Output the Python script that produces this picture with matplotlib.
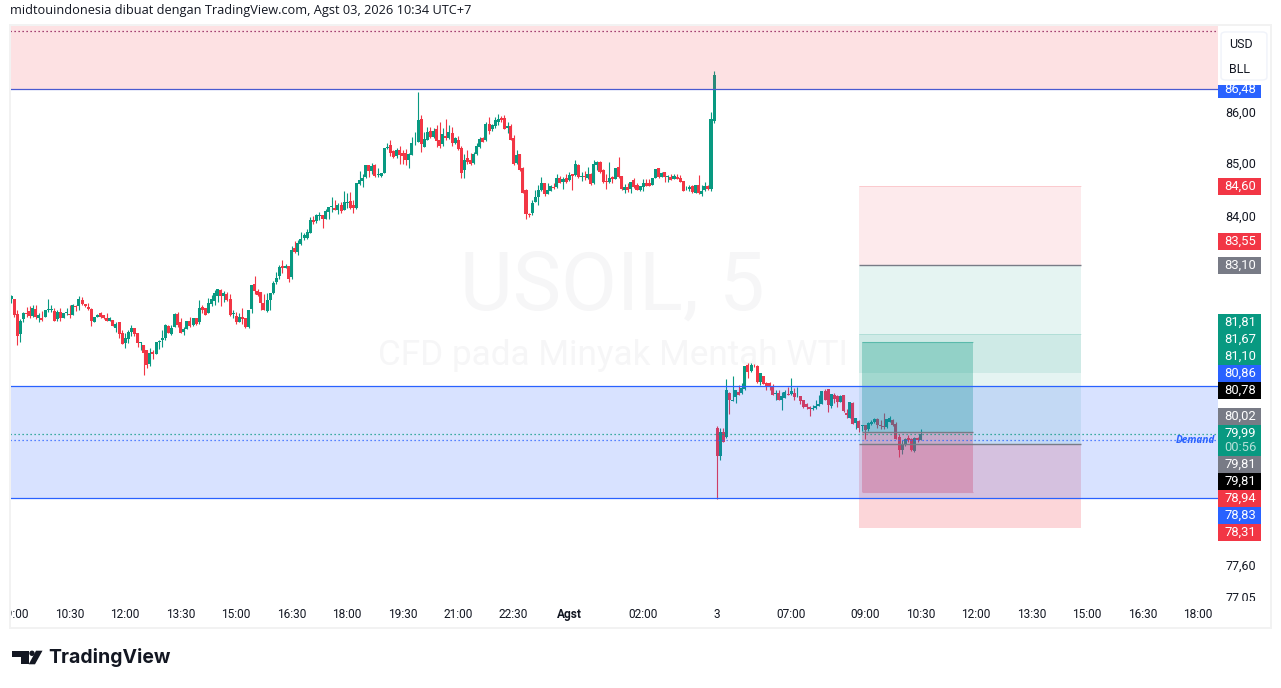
import matplotlib
matplotlib.use("Agg")
import matplotlib.pyplot as plt
import matplotlib.ticker as mticker
from matplotlib.patches import Rectangle, FancyBboxPatch, Polygon, Ellipse
from matplotlib.transforms import Bbox, ScaledTranslation

opens = [
82.46,82.46,82.19,81.82,82.09,82.21,82.24,82.15,82.28,82.12,
82.12,82.13,82.26,82.26,82.25,82.09,82.23,82.11,82.20,82.19,
82.17,82.33,82.33,82.44,82.37,82.32,82.28,82.04,82.14,82.20,
82.17,82.12,82.06,82.07,81.93,82.04,81.84,81.65,81.72,81.85,
81.93,81.83,81.65,81.62,81.52,81.26,81.48,81.45,81.67,81.70,
81.74,81.96,81.82,81.95,82.19,82.03,81.86,81.90,82.05,81.98,
82.11,82.03,82.31,82.30,82.21,82.38,82.43,82.52,82.63,82.52,
82.56,82.46,82.18,82.15,82.04,82.14,82.12,81.95,82.28,82.74,
82.62,82.59,82.40,82.25,82.44,82.57,82.79,82.89,83.08,83.05,
83.08,82.88,83.42,83.35,83.49,83.61,83.61,83.71,83.96,83.93,
84.03,84.04,83.97,84.10,84.20,84.19,84.15,84.24,84.14,84.28,
84.32,84.24,84.18,84.64,84.70,84.78,85.01,84.88,85.01,84.82,
84.80,84.85,85.33,85.39,85.28,85.17,85.30,85.24,85.23,85.10,
85.19,85.42,85.45,85.89,85.35,85.48,85.67,85.55,85.69,85.48,
85.40,85.56,85.53,85.63,85.43,85.49,85.34,84.90,85.14,85.10,
85.05,85.21,85.35,85.52,85.48,85.80,85.69,85.76,85.83,85.92,
85.92,85.71,85.76,85.53,85.05,85.21,84.94,84.52,84.07,84.08,
84.30,84.39,84.52,84.65,84.44,84.51,84.58,84.58,84.76,84.67,
84.75,84.71,84.83,84.81,85.01,84.78,84.79,84.76,84.83,84.65,
85.00,85.06,84.90,84.69,84.67,84.77,84.74,84.96,84.79,84.53,
84.59,84.54,84.71,84.63,84.53,84.58,84.66,84.66,84.62,84.76,
84.94,84.78,84.87,84.78,84.77,84.74,84.77,84.75,84.69,84.54,
84.54,84.60,84.47,84.63,84.44,84.52,84.60,84.55,85.85,80.10,
79.58,80.02,79.93,80.73,80.58,80.66,80.75,80.73,80.80,81.24,
81.13,81.23,81.22,80.93,81.05,80.92,80.91,80.84,80.71,80.74,
80.60,80.64,80.71,80.71,80.74,80.67,80.68,80.61,80.53,80.47,
80.44,80.45,80.49,80.53,80.77,80.81,80.49,80.69,80.67,80.57,
80.69,80.36,80.28,80.54,80.18,80.22,80.13,80.15,80.07,80.16,
80.20,80.26,80.15,80.13,80.11,80.20,80.24,80.17,79.93,79.69,
79.78,79.91,79.90,79.68,79.91,79.88]
closes = [
82.52,82.17,81.78,82.06,82.21,82.18,82.15,82.30,82.14,82.17,
82.07,82.27,82.27,82.27,82.06,82.22,82.11,82.20,82.22,82.17,
82.35,82.32,82.46,82.38,82.33,82.28,82.06,82.13,82.17,82.14,
82.12,82.06,82.12,81.97,82.01,81.82,81.64,81.74,81.85,81.93,
81.81,81.65,81.66,81.47,81.25,81.46,81.45,81.66,81.69,81.74,
81.98,81.84,81.93,82.18,81.99,81.84,81.90,82.06,81.97,82.11,
82.01,82.30,82.27,82.17,82.39,82.46,82.57,82.65,82.52,82.57,
82.44,82.17,82.20,82.04,82.13,82.09,81.94,82.27,82.73,82.62,
82.54,82.40,82.26,82.44,82.57,82.77,82.85,83.06,83.05,83.08,
82.84,83.38,83.34,83.52,83.60,83.66,83.72,83.95,83.92,84.04,
84.05,83.98,84.12,84.20,84.21,84.14,84.24,84.12,84.29,84.29,
84.19,84.18,84.65,84.72,84.76,85.01,84.88,84.99,84.80,84.83,
84.85,85.33,85.35,85.23,85.16,85.30,85.19,85.18,85.10,85.21,
85.42,85.43,85.87,85.40,85.50,85.64,85.55,85.67,85.47,85.37,
85.60,85.53,85.64,85.43,85.52,85.31,84.85,85.11,85.06,85.03,
85.21,85.37,85.50,85.45,85.79,85.67,85.77,85.87,85.90,85.87,
85.70,85.76,85.49,85.02,85.19,84.90,84.47,84.07,84.04,84.28,
84.39,84.52,84.65,84.44,84.52,84.60,84.56,84.75,84.66,84.74,
84.67,84.81,84.80,85.02,84.78,84.80,84.77,84.83,84.64,85.02,
85.06,84.87,84.67,84.67,84.75,84.74,84.95,84.78,84.54,84.58,
84.53,84.67,84.58,84.53,84.60,84.65,84.61,84.61,84.76,84.92,
84.78,84.85,84.78,84.80,84.72,84.79,84.73,84.67,84.51,84.55,
84.58,84.48,84.62,84.46,84.50,84.61,84.54,85.90,86.75,79.58,
80.02,79.85,80.79,80.60,80.61,80.78,80.70,80.82,81.22,81.11,
81.25,81.22,80.93,81.09,80.90,80.86,80.84,80.69,80.72,80.60,
80.67,80.75,80.70,80.77,80.65,80.68,80.59,80.47,80.48,80.44,
80.45,80.50,80.53,80.76,80.61,80.51,80.71,80.63,80.56,80.67,
80.40,80.33,80.56,80.16,80.27,80.10,80.14,80.05,80.18,80.21,
80.26,80.15,80.13,80.11,80.25,80.27,80.15,79.90,79.69,79.81,
79.90,79.88,79.69,79.91,79.87,79.99]
highs = [
82.54,82.46,82.26,82.09,82.23,82.32,82.33,82.35,82.36,82.20,
82.24,82.27,82.46,82.36,82.30,82.27,82.30,82.20,82.29,82.35,
82.37,82.36,82.52,82.51,82.37,82.40,82.30,82.13,82.18,82.22,
82.17,82.20,82.14,82.07,82.04,82.04,81.89,81.83,81.89,81.99,
81.93,81.83,81.66,81.62,81.52,81.56,81.52,81.66,81.71,81.89,
82.01,81.99,81.98,82.21,82.23,82.11,81.94,82.06,82.14,82.11,
82.11,82.44,82.35,82.30,82.48,82.54,82.63,82.65,82.66,82.62,
82.59,82.56,82.26,82.23,82.20,82.29,82.12,82.27,82.73,82.90,
82.65,82.59,82.56,82.57,82.57,82.81,82.97,83.10,83.19,83.12,
83.08,83.46,83.55,83.57,83.72,83.70,83.78,84.01,84.02,84.06,
84.10,84.04,84.17,84.21,84.39,84.33,84.28,84.29,84.50,84.46,
84.48,84.33,84.65,84.88,84.83,85.01,85.01,85.05,85.02,84.95,
84.86,85.33,85.42,85.48,85.29,85.33,85.37,85.29,85.32,85.23,
85.55,85.64,86.42,85.98,85.64,85.73,85.74,85.72,85.77,85.83,
85.71,85.90,85.77,85.73,85.55,85.56,85.37,85.21,85.30,85.23,
85.26,85.42,85.55,85.55,85.83,85.93,85.80,85.93,85.99,85.96,
85.98,85.83,85.80,85.59,85.29,85.21,84.96,84.54,84.08,84.33,
84.53,84.62,84.77,84.65,84.65,84.63,84.65,84.83,84.79,84.78,
84.83,84.87,84.83,85.10,85.02,84.87,84.88,84.97,84.85,85.10,
85.08,85.08,84.92,84.84,85.06,84.79,84.95,85.15,84.79,84.64,
84.65,84.67,84.76,84.65,84.61,84.73,84.73,84.73,84.76,84.92,
84.94,84.87,84.87,84.81,84.83,84.83,84.83,84.81,84.69,84.60,
84.63,84.63,84.63,84.81,84.62,84.67,84.63,86.03,86.83,80.13,
80.10,80.10,80.98,80.75,81.05,80.78,80.87,80.91,81.22,81.28,
81.28,81.27,81.24,81.10,81.05,80.94,80.93,80.89,80.79,80.78,
80.75,80.78,80.84,81.01,80.83,80.84,80.68,80.61,80.55,80.49,
80.51,80.61,80.69,80.76,80.81,80.81,80.72,80.74,80.69,80.69,
80.69,80.44,80.57,80.56,80.27,80.24,80.15,80.15,80.20,80.24,
80.28,80.28,80.24,80.37,80.26,80.32,80.26,80.20,79.98,79.88,
79.92,79.96,79.92,79.93,79.94,80.07]
lows = [
82.40,82.14,81.61,81.67,82.03,82.14,82.11,82.14,82.09,82.04,
82.06,82.13,82.23,82.23,82.06,82.06,82.06,82.11,82.17,82.11,
82.16,82.25,82.27,82.36,82.31,82.27,81.96,82.04,82.14,82.12,
82.10,82.06,82.06,81.97,81.86,81.74,81.63,81.56,81.65,81.78,
81.78,81.57,81.52,81.06,81.18,81.22,81.36,81.45,81.54,81.58,
81.71,81.83,81.80,81.94,81.95,81.84,81.80,81.90,81.95,81.96,
81.99,82.01,82.20,82.17,82.20,82.33,82.35,82.41,82.33,82.41,
82.43,82.15,82.11,82.01,82.03,82.01,81.92,81.92,82.21,82.56,
82.52,82.26,82.26,82.23,82.27,82.56,82.75,82.84,82.95,83.05,
82.78,82.84,83.33,83.30,83.48,83.57,83.60,83.70,83.87,83.90,
83.96,83.80,83.97,83.97,84.11,84.14,84.07,84.09,84.14,84.19,
84.17,84.09,84.17,84.62,84.58,84.76,84.78,84.83,84.77,84.77,
84.77,84.85,85.32,85.18,85.14,85.14,85.02,85.02,85.00,84.95,
85.19,85.39,85.45,85.26,85.35,85.48,85.53,85.53,85.35,85.34,
85.38,85.48,85.51,85.37,85.40,85.30,84.76,84.76,85.03,85.01,
85.03,85.19,85.34,85.44,85.47,85.60,85.67,85.71,85.77,85.83,
85.69,85.62,85.48,85.00,85.03,84.89,84.46,83.97,84.01,84.05,
84.30,84.23,84.51,84.41,84.44,84.50,84.55,84.57,84.65,84.55,
84.65,84.70,84.52,84.80,84.76,84.70,84.71,84.74,84.63,84.64,
84.90,84.85,84.66,84.54,84.66,84.66,84.74,84.76,84.52,84.47,
84.48,84.47,84.56,84.52,84.51,84.51,84.60,84.60,84.62,84.76,
84.76,84.78,84.68,84.68,84.71,84.73,84.73,84.67,84.50,84.52,
84.51,84.46,84.46,84.44,84.42,84.51,84.52,84.50,85.81,78.81,
79.51,79.85,79.92,80.34,80.58,80.55,80.69,80.72,80.79,81.01,
81.11,81.20,80.91,80.87,80.89,80.79,80.78,80.69,80.61,80.60,
80.42,80.64,80.69,80.69,80.61,80.65,80.53,80.45,80.44,80.31,
80.43,80.44,80.49,80.53,80.61,80.39,80.45,80.54,80.48,80.57,
80.38,80.28,80.28,80.16,80.07,80.02,80.04,79.90,80.04,80.14,
80.19,80.10,80.07,80.08,80.10,80.20,80.13,79.89,79.57,79.63,
79.76,79.84,79.68,79.66,79.84,79.87]

first_bar_index = -1   # candle just before the 09:00 tick

time_ticks = [0, 18, 36, 54, 72, 90, 108, 126, 144, 162, 180, 204, 228, 252, 276, 294, 312, 330, 348, 366, 384]
time_labels = ["09:00", "10:30", "12:00", "13:30", "15:00", "16:30", "18:00", "19:30", "21:00", "22:30",
               "Agst", "02:00", "3", "07:00", "09:00", "10:30", "12:00", "13:30", "15:00", "16:30", "18:00"]
price_ticks = [86.00, 85.00, 84.00, 77.60, 77.05]

supply_zone = (86.48, 88.0)
demand_zone = (78.83, 80.86)
demand_line = 79.87
last_price = 79.99
top_dotted = 87.63
# two wide positions (start, end, entry, target, stop)
short_pos = (274, 346, 83.10, 81.10, 84.60)
long_pos = (274, 346, 79.81, 81.81, 78.31)
inner_pos = (275, 311, 80.02, 81.67, 78.94)

badge_values = ["86,48", "84,60", "83,55", "83,10", "81,81", "81,67", "81,10", "80,86", "80,78",
                "80,02", "79,99", "00:56", "79,81", "79,81", "78,94", "78,83", "78,31"]
badge_colors = ["#2962ff", "#f23645", "#f23645", "#787b86", "#089981", "#089981", "#089981", "#2962ff", "#000000",
                "#787b86", "#089981", "#089981", "#787b86", "#000000", "#f23645", "#2962ff", "#f23645"]
badge_centers = [89.5, 186.5, 241.5, 265.5, 322.5, 339.5, 356.5, 373.5, 390.5,
                 416.5, 433, 447.5, 464.5, 481.5, 498.5, 515.5, 532.5]
badge_tops = [85, 178, 233, 257, 314, 331, 348, 365, 382, 408, 425, 440, 456, 473, 490, 507, 524]
badge_bots = [98, 195, 250, 274, 331, 348, 365, 382, 399, 425, 440, 456, 473, 490, 507, 524, 541]

GREEN, RED, BLUE = "#089981", "#f23645", "#2962ff"
W, H = 1281, 688
FONT = "Roboto"

def fx(x):
    return x / W
def fy(y):
    return 1 - y / H

fig = plt.figure(figsize=(W / 100, H / 100), dpi=100, facecolor="white")
ax = fig.add_axes([fx(10), fy(601), (1218 - 10) / W, (601 - 25) / H])
ax.set_yscale("log")
ax.set_ylim(77.02, 87.74)
ax.set_xlim(-1.37, 390.45)
for s in ax.spines.values():
    s.set_visible(False)

# watermark
fig.text(fx(612), fy(288), "USOIL, 5", fontsize=58.5, color="#f6f6f7", ha="center", va="center", family=FONT, zorder=-1)
fig.text(fx(613), fy(356), "CFD pada Minyak Mentah WTI", fontsize=25.3, color="#f6f6f7", ha="center", va="center", family=FONT, zorder=-1)
ax.set_facecolor("none")

# candles
for i, (o, h, l, c) in enumerate(zip(opens, highs, lows, closes)):
    k = first_bar_index + i
    col = GREEN if c >= o else RED
    ax.vlines(k, l, h, color=col, lw=0.8, zorder=1)
    ax.bar(k, max(abs(c - o), 0.012), bottom=min(o, c), width=0.98, color=col, linewidth=0, zorder=1.1)

def rect(x0, x1, a, b, col, alpha, z=3):
    ax.fill_between([x0, x1], [a, a], [b, b], color=col, alpha=alpha, lw=0, zorder=z)

# wide positions
s0, s1, se, st, ss = short_pos
rect(s0, s1, se, ss, RED, 0.10)
rect(s0, s1, st, se, GREEN, 0.10)
ax.hlines(se, s0, s1, color="#787b86", lw=1.0, zorder=3.5)
ax.hlines(ss, s0, s1, color=RED, lw=0.7, alpha=0.18, zorder=3.5)
l0, l1, le, lt, ls_ = long_pos
rect(l0, l1, le, lt, GREEN, 0.10)
rect(l0, l1, ls_, le, RED, 0.20)
ax.hlines(lt, l0, l1, color=GREEN, lw=0.7, alpha=0.15, zorder=3.5)

# inner position
i0, i1, ie, it, is_ = inner_pos
rect(i0, i1, ie, it, GREEN, 0.30, z=3.2)
rect(i0, i1, is_, ie, RED, 0.30, z=3.2)
ax.hlines(it, i0, i1, color=GREEN, lw=0.8, alpha=0.4, zorder=3.5)
ax.hlines(is_, i0, i1, color=RED, lw=0.8, alpha=0.3, zorder=3.5)

# zones, above the positions
ax.axhspan(supply_zone[0], supply_zone[1], color=RED, alpha=0.15, lw=0, zorder=3.8)
ax.axhline(supply_zone[0], color="#4a5ad0", lw=0.9, zorder=3.9)
ax.axhspan(demand_zone[0], demand_zone[1], color=BLUE, alpha=0.18, lw=0, zorder=3.8)
ax.axhline(demand_zone[0], color=BLUE, lw=0.9, zorder=3.9)
ax.axhline(demand_zone[1], color=BLUE, lw=0.9, zorder=3.9)
ax.hlines(le, l0, l1, color="#787b86", lw=1.0, zorder=4)
ax.hlines(ie, i0, i1, color="#787b86", lw=1.0, zorder=4)
ax.axhline(top_dotted, color="#880e4f", lw=0.9, ls=(0, (1, 2.2)), zorder=3.9)
ax.axhline(last_price, color=GREEN, lw=0.9, ls=(0, (1, 2.2)), zorder=4)
ax.axhline(demand_line, color=BLUE, lw=0.9, ls=(0, (1, 2.2)), zorder=4)
ax.text(0.9975, demand_line, "Demand", transform=ax.get_yaxis_transform(), ha="right", va="center",
        color=BLUE, fontsize=7.2, fontstyle="italic", fontweight="bold", family="Open Sans", zorder=5)

# axes ticks
ax.minorticks_off()
ax.xaxis.set_tick_params(length=0, pad=4.8, which="both")
ax.set_xticks(time_ticks)
ax.set_xticklabels(time_labels, fontsize=8.6, color="#131722", family=FONT)
clip_x = Bbox([[10, 0], [1218, H]])
for lab, txt in zip(ax.get_xticklabels(), time_labels):
    lab.set_clip_box(clip_x)
    lab.set_clip_on(True)
    if txt == "Agst":
        lab.set_fontweight("bold")
ax.yaxis.tick_right()
ax.set_yticks(price_ticks)
ax.set_yticklabels([f"{v:.2f}".replace(".", ",") for v in price_ticks], fontsize=9, color="#131722", family=FONT)
ax.yaxis.set_tick_params(length=0, pad=5.5, which="both")
ax.yaxis.set_minor_locator(mticker.NullLocator())
ax.yaxis.set_minor_formatter(mticker.NullFormatter())
clip_y = Bbox([[1218, H - 601], [W, H]])
for lab, v in zip(ax.get_yticklabels(), price_ticks):
    lab.set_clip_box(clip_y)
    lab.set_clip_on(True)
    lab.set_transform(lab.get_transform() + ScaledTranslation(0, 0.03 if v < 78 else 0.02, fig.dpi_scale_trans))

# frame
for (x0, y0, x1, y1) in [(9, 25, 11, 628), (1269.5, 25, 1271.5, 628), (9, 626.5, 1271.5, 628.5), (9, 24, 1271.5, 26)]:
    fig.add_artist(Rectangle((fx(x0), fy(y1)), (x1 - x0) / W, (y1 - y0) / H, transform=fig.transFigure,
                             color="#f2f2f2", lw=0, zorder=0.5))

# price badges
for val, col, cy, t, b in zip(badge_values, badge_colors, badge_centers, badge_tops, badge_bots):
    fig.add_artist(Rectangle((fx(1218), fy(b)), 43 / W, (b - t) / H, transform=fig.transFigure, color=col, lw=0, zorder=6))
    tc = "#b5e0d8" if val == "00:56" else "white"
    fig.text(fx(1240), fy(cy), val, color=tc, fontsize=9.4, ha="center", va="center", family=FONT, zorder=7)

# USD / BLL box
fig.add_artist(FancyBboxPatch((fx(1223), fy(79)), 42 / W, 46 / H, boxstyle="round,pad=0.0015,rounding_size=0.004",
                              transform=fig.transFigure, fc="white", ec="#f0f3fa", lw=1.0, zorder=8))
fig.text(fx(1240.5), fy(44), "USD", fontsize=9, color="#131722", ha="center", va="center", family=FONT, zorder=9)
fig.text(fx(1239.5), fy(69.5), "BLL", fontsize=9, color="#131722", ha="center", va="center", family=FONT, zorder=9)

# header
fig.text(fx(10), fy(10.5), "midtouindonesia dibuat dengan TradingView.com, Agst 03, 2026 10:34 UTC+7",
         fontsize=9.2, color="#131722", ha="left", va="center", family="Open Sans")

# logo
def P(pts):
    return [(fx(x), fy(y)) for x, y in pts]
black = "#131722"
fig.add_artist(Polygon(P([(12.3, 650.7), (28.7, 650.7), (28.7, 664.3), (21, 664.3), (21, 656.5), (12.3, 656.5)]),
                       transform=fig.transFigure, color=black, lw=0))
fig.add_artist(Polygon(P([(36, 650.7), (42.5, 650.7), (35, 664.3), (28.7, 664.3)]),
                       transform=fig.transFigure, color=black, lw=0))
fig.add_artist(Ellipse((fx(32), fy(653.3)), 5.4 / W, 5.4 / H, transform=fig.transFigure, color=black, lw=0))
fig.text(fx(48.5), fy(657.5), "TradingView", fontsize=14, fontweight="bold", color=black, ha="left", va="center", family="Inter")

fig.savefig("out.png", dpi=100, facecolor="white")
